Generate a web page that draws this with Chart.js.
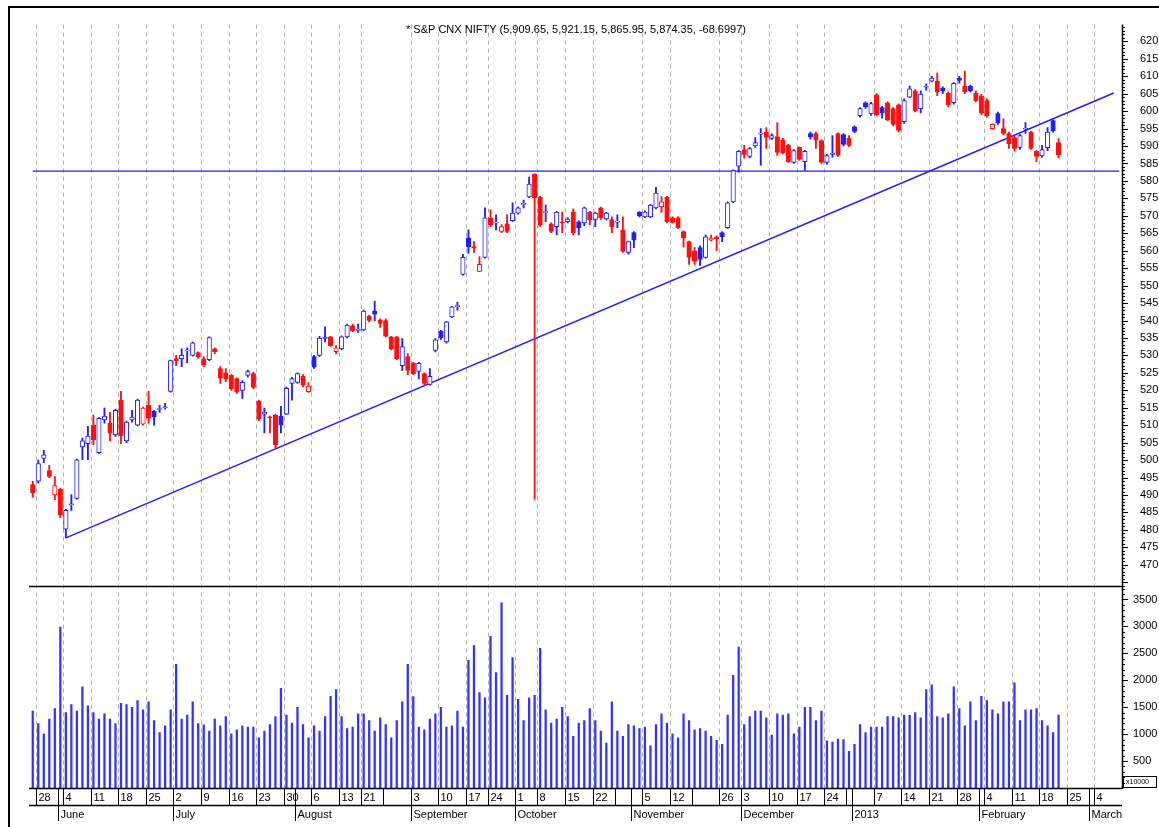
<!DOCTYPE html>
<html><head><meta charset="utf-8">
<script src="https://cdn.jsdelivr.net/npm/chart.js@4.4.0/dist/chart.umd.min.js"></script>
<style>html,body{margin:0;padding:0;background:#fff;overflow:hidden}canvas{display:block}</style>
</head><body>
<canvas id="c" width="1159" height="827"></canvas>
<script>
// ---------- DATA ----------
const dates = [
'2012-05-25','2012-05-28','2012-05-29','2012-05-30','2012-05-31',
'2012-06-01','2012-06-04','2012-06-05','2012-06-06','2012-06-07','2012-06-08','2012-06-11','2012-06-12','2012-06-13','2012-06-14','2012-06-15','2012-06-18','2012-06-19','2012-06-20','2012-06-21','2012-06-22','2012-06-25','2012-06-26','2012-06-27','2012-06-28','2012-06-29',
'2012-07-02','2012-07-03','2012-07-04','2012-07-05','2012-07-06','2012-07-09','2012-07-10','2012-07-11','2012-07-12','2012-07-13','2012-07-16','2012-07-17','2012-07-18','2012-07-19','2012-07-20','2012-07-23','2012-07-24','2012-07-25','2012-07-26','2012-07-27','2012-07-30','2012-07-31',
'2012-08-01','2012-08-02','2012-08-03','2012-08-06','2012-08-07','2012-08-08','2012-08-09','2012-08-10','2012-08-13','2012-08-14','2012-08-16','2012-08-17','2012-08-21','2012-08-22','2012-08-23','2012-08-24','2012-08-27','2012-08-28','2012-08-29','2012-08-30','2012-08-31',
'2012-09-03','2012-09-04','2012-09-05','2012-09-06','2012-09-07','2012-09-10','2012-09-11','2012-09-12','2012-09-13','2012-09-14','2012-09-17','2012-09-18','2012-09-20','2012-09-21','2012-09-24','2012-09-25','2012-09-26','2012-09-27','2012-09-28',
'2012-10-01','2012-10-03','2012-10-04','2012-10-05','2012-10-08','2012-10-09','2012-10-10','2012-10-11','2012-10-12','2012-10-15','2012-10-16','2012-10-17','2012-10-18','2012-10-19','2012-10-22','2012-10-23','2012-10-25','2012-10-26','2012-10-29','2012-10-30','2012-10-31',
'2012-11-01','2012-11-02','2012-11-05','2012-11-06','2012-11-07','2012-11-08','2012-11-09','2012-11-12','2012-11-13','2012-11-15','2012-11-16','2012-11-19','2012-11-20','2012-11-21','2012-11-22','2012-11-23','2012-11-26','2012-11-27','2012-11-29','2012-11-30',
'2012-12-03','2012-12-04','2012-12-05','2012-12-06','2012-12-07','2012-12-10','2012-12-11','2012-12-12','2012-12-13','2012-12-14','2012-12-17','2012-12-18','2012-12-19','2012-12-20','2012-12-21','2012-12-24','2012-12-26','2012-12-27','2012-12-28','2012-12-31',
'2013-01-01','2013-01-02','2013-01-03','2013-01-04','2013-01-07','2013-01-08','2013-01-09','2013-01-10','2013-01-11','2013-01-14','2013-01-15','2013-01-16','2013-01-17','2013-01-18','2013-01-21','2013-01-22','2013-01-23','2013-01-24','2013-01-25','2013-01-28','2013-01-29','2013-01-30','2013-01-31',
'2013-02-01','2013-02-04','2013-02-05','2013-02-06','2013-02-07','2013-02-08','2013-02-11','2013-02-12','2013-02-13','2013-02-14','2013-02-15','2013-02-18','2013-02-19','2013-02-20','2013-02-21'
];
const futureDates = ['2013-02-22','2013-02-25','2013-02-26','2013-02-27','2013-02-28','2013-03-01','2013-03-04','2013-03-05','2013-03-06','2013-03-07','2013-03-08'];

const opens = [
4930,4940,5005,4970,4900,
4916,4802,4872,4890,5038,5047,5100,5021,5115,5106,5072,5172,5055,5115,5100,5103,5157,5140,5145,5150,5197,
5291,5291,5313,5300,5308,5290,5288,5319,5262,5250,5243,5234,5200,5243,5248,5169,5132,5124,5129,5126,5132,5220,
5223,5240,5196,5297,5300,5348,5353,5311,5319,5353,5385,5372,5373,5413,5427,5402,5400,5353,5353,5271,5297,
5277,5254,5248,5217,5314,5370,5339,5410,5440,5532,5637,5612,5541,5581,5694,5679,5655,5677,5686,
5708,5733,5754,5819,5754,5709,5677,5669,5682,5683,5711,5683,5680,5711,5690,5723,5691,5689,5682,5660,5595,
5652,5711,5697,5697,5723,5726,5754,5694,5694,5655,5626,5600,5609,5581,5630,5640,5652,5666,5740,5842,
5890,5870,5900,5934,5940,5922,5927,5918,5902,5853,5896,5855,5936,5936,5916,5853,5876,5936,5933,5922,
5955,5987,6024,5992,6047,6010,6024,6007,6018,5970,6040,6058,6007,6069,6086,6086,6066,6052,6024,6095,6072,6072,6052,
6044,6030,5950,5993,5950,5936,5924,5896,5948,5939,5885,5872,5895,5973,5909.65
];
const highs = [
4939,5000,5028,4985,4953,
4920,4859,4901,5003,5063,5097,5129,5122,5149,5137,5146,5197,5112,5143,5175,5152,5197,5142,5157,5163,5287,
5300,5319,5322,5338,5310,5297,5353,5322,5268,5262,5245,5236,5228,5258,5252,5172,5149,5126,5131,5154,5209,5237,
5250,5245,5222,5300,5355,5382,5355,5328,5356,5390,5390,5390,5430,5415,5456,5405,5405,5355,5355,5348,5305,
5280,5280,5250,5262,5348,5372,5398,5441,5453,5590,5660,5626,5583,5723,5717,5703,5675,5703,5737,
5726,5745,5811,5821,5756,5731,5680,5713,5711,5695,5720,5686,5725,5713,5711,5725,5710,5697,5703,5697,5628,
5655,5712,5714,5733,5782,5755,5756,5697,5697,5657,5628,5609,5614,5645,5645,5643,5655,5740,5832,5887,
5902,5896,5924,5950,5953,5935,5967,5922,5905,5890,5898,5888,5940,5940,5918,5876,5930,5938,5936,5930,
5958,6010,6027,6025,6050,6014,6027,6010,6021,6035,6072,6062,6058,6078,6100,6109,6070,6055,6082,6100,6115,6075,6058,
6048,6035,5964,5997,5978,5940,5930,5933,5967,5942,5887,5902,5953,5975,5921.15
];
const lows = [
4893,4935,4993,4950,4887,
4835,4777,4856,4888,5001,5001,5044,5019,5106,5055,5068,5047,5050,5109,5098,5100,5106,5100,5137,5146,5195,
5271,5268,5279,5298,5292,5268,5285,5305,5220,5225,5200,5191,5177,5238,5205,5112,5078,5078,5035,5078,5130,5172,
5220,5210,5194,5263,5297,5339,5326,5305,5316,5350,5368,5366,5370,5396,5399,5380,5353,5316,5288,5257,5245,
5245,5233,5215,5215,5310,5345,5335,5408,5430,5530,5592,5595,5540,5579,5669,5660,5652,5652,5684,
5705,5723,5752,4888,5670,5683,5652,5645,5652,5680,5645,5645,5672,5675,5669,5690,5688,5652,5666,5595,5590,
5609,5697,5695,5695,5720,5710,5680,5680,5664,5610,5561,5561,5558,5579,5628,5600,5626,5664,5738,5825,
5865,5866,5896,5845,5893,5918,5873,5878,5853,5850,5859,5830,5920,5893,5850,5848,5868,5870,5900,5898,
5938,5983,6008,5988,5986,5980,5972,5958,5940,5965,6038,5998,5995,6060,6084,6044,6050,6012,6020,6080,6050,6055,6027,
5990,5983,5948,5962,5932,5893,5885,5890,5936,5890,5855,5868,5887,5940,5865.95
];
const closes = [
4907,4990,5015,4953,4927,
4842,4856,4875,5001,5055,5069,5058,5120,5126,5078,5143,5069,5109,5123,5172,5149,5120,5124,5147,5152,5285,
5285,5300,5315,5336,5296,5272,5351,5311,5235,5232,5205,5195,5223,5254,5208,5117,5137,5121,5044,5100,5206,5234,
5248,5215,5212,5266,5350,5352,5328,5322,5353,5387,5370,5374,5427,5400,5418,5392,5355,5319,5291,5325,5257,
5248,5277,5220,5240,5345,5350,5396,5439,5442,5581,5612,5608,5561,5694,5674,5681,5669,5655,5708,
5723,5735,5791,5751,5674,5712,5655,5711,5680,5691,5652,5666,5723,5689,5708,5694,5708,5669,5684,5598,5626,
5630,5700,5711,5731,5765,5740,5683,5681,5666,5637,5581,5570,5575,5640,5636,5634,5640,5737,5830,5885,
5876,5893,5910,5936,5925,5930,5882,5880,5855,5887,5862,5885,5926,5917,5853,5873,5880,5873,5905,5902,
5942,6007,6012,6022,5990,5995,5975,5962,5945,6030,6064,6001,6049,6072,6095,6055,6058,6018,6080,6088,6055,6058,6030,
5995,5987,5962,5966,5936,5907,5893,5930,5951,5893,5870,5890,5940,5943.05,5874.35
];
// volume, in units of 10000
const volumes = [
1426,1198,1000,1278,1475,2988,1401,1550,1426,1877,
1525,1401,1278,1377,1278,1198,1574,1550,1500,1623,
1451,1599,1253,1031,1155,1451,2296,1278,1352,1599,
1198,1173,1056,1278,1155,1327,1006,1080,1155,1130,
1130,932,1056,1179,1327,1852,1352,1204,1500,1179,
932,1155,1056,1327,1704,1827,1327,1105,1130,1377,
1377,1253,1056,1303,1179,932,1253,1599,
2296,1698,1130,1080,1278,1377,1500,1130,1155,1426,
1130,2370,2642,1772,1673,2815,2142,3439,1722,2420,
1648,1253,1673,1722,2593,1451,1204,1278,1500,1327,
957,1204,1253,1475,1253,1056,833,1599,1056,957,
1179,1155,1105,1130,784,1179,1377,1204,1006,932,
1377,1253,1080,1105,1056,957,883,809,1352,2093,
2617,1179,1327,1426,1426,1303,982,1377,1352,1377,
1006,1130,1500,1500,1253,1426,877,852,907,901,
679,809,1179,1031,1130,1130,1130,1327,1327,1303,
1352,1350,1401,1303,1827,1914,1327,1303,1377,1877,
1475,1155,1599,1253,1704,1623,1451,1377,1599,1599,
1951,1253,1451,1451,1475,1253,1155,1031,1352
];
const supportLevel = [5828];
const trendDates = ['2012-06-04','2013-03-07'];
const trendValues = [4777, 6052];
const hiddenWeeks = ['2012-08-27','2012-10-29','2012-11-19','2012-12-31'];
const monthLabels = ['June','July','August','September','October','November','December','2013','February','March'];
const titleText = '* S&P CNX NIFTY (5,909.65, 5,921.15, 5,865.95, 5,874.35, -68.6997)';
const volumeUnitLabel = 'x10000';

// ---------- BUILD ----------
const labels = dates.concat(futureDates);
const BLUE = '#1f1fff', RED = '#ff0f0f', VOL = '#3333ff';
const up = closes.map((c, i) => i === 0 ? c > opens[i] : c > closes[i - 1]);
const col = up.map(u => u ? BLUE : RED);
const fillCol = closes.map((c, i) => c > opens[i] ? '#ffffff' : col[i]);

const weekKey = d => Math.floor((Date.parse(d + 'T00:00:00Z') / 86400000 + 3) / 7);
const weekStarts = [], monthStarts = [];
labels.forEach((d, i) => {
  if (i === 0) return;
  if (weekKey(d) !== weekKey(labels[i - 1])) weekStarts.push(i);
  if (d.slice(0, 7) !== labels[i - 1].slice(0, 7)) monthStarts.push(i);
});

const FONT = '"Liberation Sans", Arial, sans-serif';

const deco = {
  id: 'deco',
  beforeDatasetsDraw(chart) {
    const {ctx, chartArea: a, scales: {x}} = chart;
    const half = (x.getPixelForValue(1) - x.getPixelForValue(0)) / 2;
    ctx.save();
    ctx.strokeStyle = '#adadad';
    ctx.lineWidth = 1;
    ctx.setLineDash([4, 4]);
    weekStarts.forEach(i => {
      if (hiddenWeeks.includes(labels[i])) return;
      const px = Math.round(x.getPixelForValue(i) - half) + 0.5;
      ctx.beginPath(); ctx.moveTo(px, a.top); ctx.lineTo(px, a.bottom); ctx.stroke();
    });
    ctx.restore();
  },
  afterDraw(chart) {
    const {ctx, chartArea: a, scales: {x, y, yv}} = chart;
    const half = (x.getPixelForValue(1) - x.getPixelForValue(0)) / 2;
    const L = a.left - 1, R = a.right;
    ctx.save();
    ctx.fillStyle = '#000';
    // frame
    ctx.fillRect(8, 6, 1151, 2);
    ctx.fillRect(8, 6, 2, 821);
    ctx.strokeStyle = '#000';
    const hline = (x1, x2, yy, w) => { ctx.lineWidth = w; ctx.beginPath(); ctx.moveTo(x1, yy); ctx.lineTo(x2, yy); ctx.stroke(); };
    const vline = (xx, y1, y2, w) => { ctx.lineWidth = w; ctx.beginPath(); ctx.moveTo(xx, y1); ctx.lineTo(xx, y2); ctx.stroke(); };
    // panel separator, bottom axis, date row
    hline(L, R, Math.round(y.bottom) + 0.5, 1.5);
    hline(L, R, Math.round(a.bottom) + 0.5, 1.5);
    hline(L, R, a.bottom + 17.5, 1.5);
    // right axis line
    vline(R + 0.5, a.top, a.bottom + 1, 1.5);
    // price ticks
    ctx.lineWidth = 1;
    for (let v = Math.ceil(y.min / 10) * 10; v <= y.max; v += 10) {
      const py = Math.round(y.getPixelForValue(v)) + 0.5;
      const len = v % 50 === 0 ? 6 : 3;
      ctx.beginPath(); ctx.moveTo(R, py); ctx.lineTo(R + len, py); ctx.stroke();
    }
    for (let v = 100; v <= yv.max; v += 100) {
      const py = Math.round(yv.getPixelForValue(v)) + 0.5;
      const len = v % 500 === 0 ? 6 : 3;
      ctx.beginPath(); ctx.moveTo(R, py); ctx.lineTo(R + len, py); ctx.stroke();
    }
    // unit box
    ctx.lineWidth = 1;
    ctx.strokeRect(R + 1.5, a.bottom - 11.5, 33, 11);
    ctx.font = '7px ' + FONT;
    ctx.textBaseline = 'middle';
    ctx.textAlign = 'left';
    ctx.fillText(volumeUnitLabel, R + 4, a.bottom - 5.5);
    // date rows
    ctx.font = '11px ' + FONT;
    weekStarts.forEach(i => {
      const px = Math.round(x.getPixelForValue(i) - half) + 0.5;
      vline(px, a.bottom, a.bottom + 17, 1);
      if (!hiddenWeeks.includes(labels[i])) {
        ctx.fillText(String(parseInt(labels[i].slice(8), 10)), px + 2, a.bottom + 9.5);
      }
    });
    monthStarts.forEach((i, k) => {
      const px = Math.round(x.getPixelForValue(i) - half) + 0.5;
      vline(px, a.bottom, a.bottom + 33, 1);
      ctx.fillText(monthLabels[k], px + 2, a.bottom + 27);
    });
    // title
    ctx.textAlign = 'center';
    ctx.font = '11px ' + FONT;
    ctx.fillText(titleText, (a.left + a.right) / 2, 30);
    ctx.restore();
  }
};

const tickFont = {family: FONT, size: 11};
new Chart(document.getElementById('c'), {
  type: 'bar',
  data: {
    labels,
    datasets: [
      {type: 'line', label: 'trend', data: trendDates.map((d, i) => ({x: d, y: trendValues[i]})),
       yAxisID: 'y', borderColor: BLUE, borderWidth: 1.4, pointRadius: 0, order: 3},
      {type: 'line', label: 'support', data: [{x: labels[0], y: supportLevel[0]}, {x: labels[labels.length - 1], y: supportLevel[0]}],
       yAxisID: 'y', borderColor: BLUE, borderWidth: 1.4, pointRadius: 0, order: 3},
      {type: 'bar', label: 'range', data: lows.map((l, i) => [l, highs[i]]), yAxisID: 'y',
       backgroundColor: col, barThickness: 1.2, grouped: false, order: 2},
      {type: 'bar', label: 'body', data: opens.map((o, i) => [o, closes[i]]), yAxisID: 'y',
       backgroundColor: fillCol, borderColor: col, borderWidth: 1, borderSkipped: false,
       barThickness: 4.5, minBarLength: 1, grouped: false, order: 1},
      {type: 'bar', label: 'volume', data: volumes, yAxisID: 'yv',
       backgroundColor: VOL, barThickness: 1.6, grouped: false, order: 1}
    ]
  },
  options: {
    responsive: false,
    animation: false,
    devicePixelRatio: 1,
    layout: {padding: {left: 30, top: 18, right: 0, bottom: 0}},
    plugins: {legend: {display: false}, tooltip: {enabled: false}, title: {display: false}},
    scales: {
      x: {type: 'category', offset: true, grid: {display: false, drawTicks: false}, border: {display: false},
          ticks: {display: false}, afterFit: s => { s.height = 39; }},
      y: {type: 'linear', position: 'right', stack: 'r', stackWeight: 566, min: 4640, max: 6248,
          grid: {display: false, drawTicks: false}, border: {display: false},
          ticks: {stepSize: 50, autoSkip: false, includeBounds: false, padding: 18, color: '#000', font: tickFont,
                  callback: v => (v >= 4700 && v <= 6200 && v % 50 === 0) ? String(v / 10) : ''},
          afterFit: s => { s.width = 37; }},
      yv: {type: 'linear', position: 'right', stack: 'r', stackWeight: 204, min: 0, max: 3755,
          grid: {display: false, drawTicks: false}, border: {display: false},
          ticks: {stepSize: 100, autoSkip: false, includeBounds: false, padding: 11, color: '#000', font: tickFont,
                  callback: v => (v > 0 && v <= 3500 && Math.round(v) % 500 === 0) ? String(Math.round(v)) : ''},
          afterFit: s => { s.width = 37; }}
    }
  },
  plugins: [deco]
});
</script>
</body></html>
